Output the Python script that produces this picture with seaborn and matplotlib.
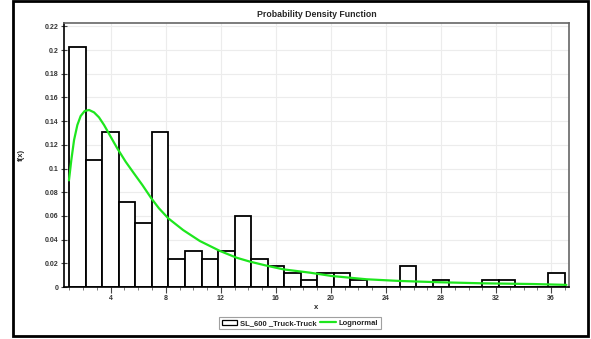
import matplotlib
matplotlib.use("Agg")
import matplotlib.pyplot as plt
import seaborn as sns
import numpy as np
from matplotlib.patches import Rectangle
from matplotlib.lines import Line2D
from matplotlib.ticker import MultipleLocator, FuncFormatter

# ---- data ----
bin_start = 1.0
bin_width = 1.2
densities = [0.2025, 0.107, 0.131, 0.0715, 0.054, 0.131, 0.024, 0.030, 0.024, 0.030,
             0.060, 0.024, 0.018, 0.012, 0.006, 0.012, 0.012, 0.006, 0.0, 0.0,
             0.018, 0.0, 0.006, 0.0, 0.0, 0.006, 0.006, 0.0, 0.0, 0.012]
curve_x = [0.97, 1.14, 1.34, 1.58, 1.82, 2.11, 2.43, 2.79, 3.15, 3.52, 4.0, 4.48,
           5.09, 5.69, 6.3, 6.95, 7.5, 8.18, 9.27, 10.48, 11.94, 13.15, 14.12,
           15.33, 16.54, 18.47, 20.05, 22.6, 25.0, 27.9, 31.06, 34.7, 37.1]
curve_y = [0.090, 0.107, 0.124, 0.1367, 0.1443, 0.1485, 0.1494, 0.1474, 0.1432,
           0.1367, 0.1268, 0.117, 0.1057, 0.0959, 0.0861, 0.0749, 0.0665, 0.058,
           0.048, 0.0388, 0.0304, 0.0247, 0.0214, 0.018, 0.0149, 0.0121, 0.0093,
           0.0065, 0.0051, 0.004, 0.0031, 0.0025, 0.0018]
x_ticks = [4, 8, 12, 16, 20, 24, 28, 32, 36]
y_ticks = [0, 0.02, 0.04, 0.06, 0.08, 0.1, 0.12, 0.14, 0.16, 0.18, 0.2, 0.22]
series_name = "SL_600 _Truck-Truck"
fit_name = "Lognormal"
title = "Probability Density Function"

n_bins = len(densities)
edges = [bin_start + i * bin_width for i in range(n_bins + 1)]
centers = [bin_start + (i + 0.5) * bin_width for i in range(n_bins)]

sns.set_theme(style="white")
plt.rcParams['font.family'] = ['Liberation Sans', 'DejaVu Sans']

fig = plt.figure(figsize=(5.91, 3.39), dpi=100)
W, H = 591, 339
ax = fig.add_axes([64 / W, 1 - 287 / H, (569 - 64) / W, (287 - 23) / H])

sns.histplot(x=centers, weights=densities, bins=edges, stat="count",
             color="white", edgecolor="black", linewidth=1.3, alpha=1,
             ax=ax, zorder=2)
sns.lineplot(x=curve_x, y=curve_y, color="#1ee61e", linewidth=1.6, ax=ax,
             zorder=3)

ax.set_xlim(0.61, 37.29)
ax.set_ylim(0, 0.2228)
ax.set_xticks(x_ticks)
ax.xaxis.set_minor_locator(MultipleLocator(1))
ax.set_yticks(y_ticks)
ax.yaxis.set_major_formatter(FuncFormatter(lambda v, p: "%g" % round(v, 2)))
ax.grid(True, which="major", color="#ececec", linewidth=0.8, zorder=0)
ax.set_axisbelow(True)

for lbl in ax.get_xticklabels() + ax.get_yticklabels():
    lbl.set_fontweight("bold")
ax.tick_params(axis="both", labelsize=5, colors="#333333", pad=2)
ax.tick_params(axis="x", which="major", direction="out", length=4, width=0.8,
               color="#444444", bottom=True)
ax.tick_params(axis="x", which="minor", direction="out", length=2, width=0.6,
               color="#666666", bottom=True)
ax.tick_params(axis="y", which="major", direction="inout", length=4, width=0.8,
               color="#444444", left=True)

ax.spines["left"].set_color("black")
ax.spines["left"].set_linewidth(1.2)
ax.spines["bottom"].set_color("black")
ax.spines["bottom"].set_linewidth(1.2)
ax.spines["top"].set_color("#666666")
ax.spines["top"].set_linewidth(1.2)
ax.spines["right"].set_color("#666666")
ax.spines["right"].set_linewidth(1.2)

ax.set_xlabel("x", fontsize=5.5, fontweight="bold", labelpad=1)
ax.set_ylabel("f(x)", fontsize=5.5, fontweight="bold", labelpad=14)
ax.set_title(title, fontsize=6.3, fontweight="bold", pad=4)

handles = [Rectangle((0, 0), 1, 1, facecolor="white", edgecolor="black", linewidth=0.9),
           Line2D([0], [0], color="#1ee61e", linewidth=1.6)]
leg = fig.legend(handles, [series_name, fit_name], loc="center",
                 bbox_to_anchor=(300 / W, 1 - 323.3 / H), ncol=2,
                 fontsize=5.5, frameon=True, fancybox=False, borderpad=0.3,
                 handlelength=2.0, handletextpad=0.4, columnspacing=0.5)
leg.get_frame().set_edgecolor("#888888")
leg.get_frame().set_linewidth(0.8)
for t in leg.get_texts():
    t.set_fontweight("bold")

# outer frame
fig.patches.append(Rectangle((12.5 / W, 1 - 335.5 / H), (587.5 - 12.5) / W,
                             (335.5 - 1) / H, transform=fig.transFigure,
                             fill=False, edgecolor="black", linewidth=2))

fig.savefig("out.png", dpi=100)
